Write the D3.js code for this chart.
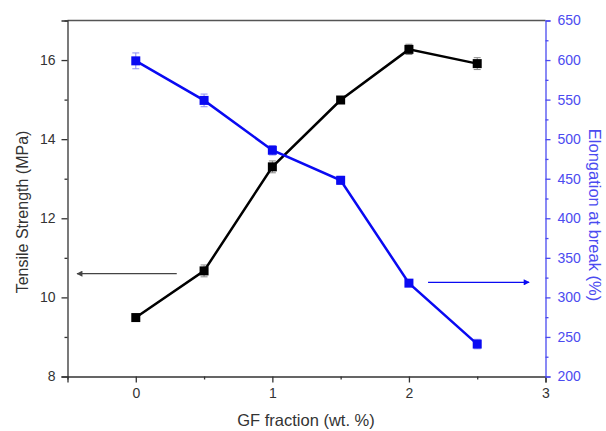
<!DOCTYPE html>
<html><head><meta charset="utf-8">
<script src="https://cdn.jsdelivr.net/npm/d3@7"></script>
<style>body{margin:0;background:#fff}svg{display:block;font-family:"Liberation Sans",Arial,sans-serif}</style>
</head><body><svg id="c" width="606" height="431"></svg>
<script>
const gf = [0, 0.5, 1, 1.5, 2, 2.5];
const tensile = [9.49, 10.67, 13.30, 14.99, 16.27, 15.91];
const tensileErr = [0.08, 0.15, 0.15, 0.08, 0.13, 0.15];
const elong = [599, 549, 486, 448, 318, 241];
const elongErr = [10, 8, 6, 5, 4, 6];
const leftTicks = [8, 10, 12, 14, 16];
const rightTicks = [200, 250, 300, 350, 400, 450, 500, 550, 600, 650];
const xTicks = [0, 1, 2, 3];

const svg = d3.select("#c");
const L = 67.5, R = 545.5, T = 20.5, B = 376.5;
const x = d3.scaleLinear().domain([-0.5, 3]).range([L, R]);
const yL = d3.scaleLinear().domain([8, 17]).range([B, T]);
const yR = d3.scaleLinear().domain([200, 650]).range([B, T]);
const blue = "#0a0af2", axBlue = "#4b4bf0", dark = "#333";

// top frame
svg.append("line").attr("x1", L).attr("x2", R).attr("y1", T).attr("y2", T).attr("stroke", "#555").attr("stroke-width", 1.3);

// bottom axis
const gx = svg.append("g").attr("transform", `translate(0,${B})`)
  .call(d3.axisBottom(x).tickValues(xTicks).tickFormat(d3.format("d")).tickSize(6).tickPadding(6));
svg.append("g").attr("transform", `translate(0,${B})`)
  .call(d3.axisBottom(x).tickValues([-0.5,0.5,1.5,2.5]).tickFormat("").tickSize(3))
  .select(".domain").remove();
// left axis
const gl = svg.append("g").attr("transform", `translate(${L},0)`)
  .call(d3.axisLeft(yL).tickValues(leftTicks).tickFormat(d3.format("d")).tickSize(6).tickPadding(6));
svg.append("g").attr("transform", `translate(${L},0)`)
  .call(d3.axisLeft(yL).tickValues([9, 11, 13, 15, 17]).tickFormat("").tickSize(3))
  .select(".domain").remove();
[gx, gl].forEach(g => {
  g.selectAll("text").attr("fill", "#333").style("font-size", "14px");
});
svg.selectAll("g line, g path").attr("stroke", dark).attr("stroke-width", 1.3);
// right axis
const gr = svg.append("g").attr("transform", `translate(${R},0)`)
  .call(d3.axisRight(yR).tickValues(rightTicks).tickFormat(d3.format("d")).tickSize(5).tickPadding(7));
const grm = svg.append("g").attr("transform", `translate(${R},0)`)
  .call(d3.axisRight(yR).tickValues(d3.range(225, 650, 50)).tickFormat("").tickSize(3));
grm.select(".domain").remove();
[gr, grm].forEach(g => g.selectAll("path,line").attr("stroke", axBlue).attr("stroke-width", 1.3));
gr.selectAll("text").attr("fill", axBlue).style("font-size", "14px");

// axis titles
svg.append("text").attr("x", 306).attr("y", 426).attr("text-anchor", "middle")
  .style("font-size", "16.5px").attr("fill", "#333").text("GF fraction (wt. %)");
svg.append("text").attr("transform", `translate(28,212) rotate(-90)`).attr("text-anchor", "middle")
  .style("font-size", "16px").attr("fill", "#333").text("Tensile Strength (MPa)");
svg.append("text").attr("transform", `translate(589,215) rotate(90)`).attr("text-anchor", "middle")
  .style("font-size", "16.5px").attr("fill", axBlue).text("Elongation at break (%)");

function series(vals, errs, y, color, ecolor) {
  const pts = gf.map((g, i) => ({x: g, v: vals[i], e: errs[i]}));
  const eg = svg.append("g").attr("stroke", ecolor).attr("stroke-width", 1);
  pts.forEach(p => {
    const cx = x(p.x), y1 = y(p.v - p.e), y2 = y(p.v + p.e);
    eg.append("line").attr("x1", cx).attr("x2", cx).attr("y1", y1).attr("y2", y2);
    eg.append("line").attr("x1", cx - 3.5).attr("x2", cx + 3.5).attr("y1", y1).attr("y2", y1);
    eg.append("line").attr("x1", cx - 3.5).attr("x2", cx + 3.5).attr("y1", y2).attr("y2", y2);
  });
  svg.append("path").datum(pts).attr("fill", "none").attr("stroke", color).attr("stroke-width", 2.5)
    .attr("d", d3.line().x(d => x(d.x)).y(d => y(d.v)));
  svg.append("g").selectAll("rect").data(pts).join("rect")
    .attr("x", d => x(d.x) - 4.5).attr("y", d => y(d.v) - 4.5).attr("width", 9).attr("height", 9).attr("fill", color);
}
series(tensile, tensileErr, yL, "#000", "#888");
series(elong, elongErr, yR, blue, "#8f8ff5");

// arrows
const defs = svg.append("defs");
[["ak", "#444"], ["ab", blue]].forEach(([id, c]) => {
  defs.append("marker").attr("id", id).attr("viewBox", "0 0 10 10").attr("refX", 9).attr("refY", 5)
    .attr("markerWidth", 9).attr("markerHeight", 6).attr("orient", "auto").attr("markerUnits", "userSpaceOnUse")
    .append("path").attr("d", "M0,0L10,5L0,10z").attr("fill", c);
});
svg.append("line").attr("x1", x(0.3)).attr("x2", x(-0.43)).attr("y1", yL(10.6)).attr("y2", yL(10.6))
  .attr("stroke", "#444").attr("stroke-width", 1.3).attr("marker-end", "url(#ak)");
svg.append("line").attr("x1", x(2.14)).attr("x2", x(2.88)).attr("y1", yR(319)).attr("y2", yR(319))
  .attr("stroke", blue).attr("stroke-width", 1.3).attr("marker-end", "url(#ab)");
</script></body></html>
